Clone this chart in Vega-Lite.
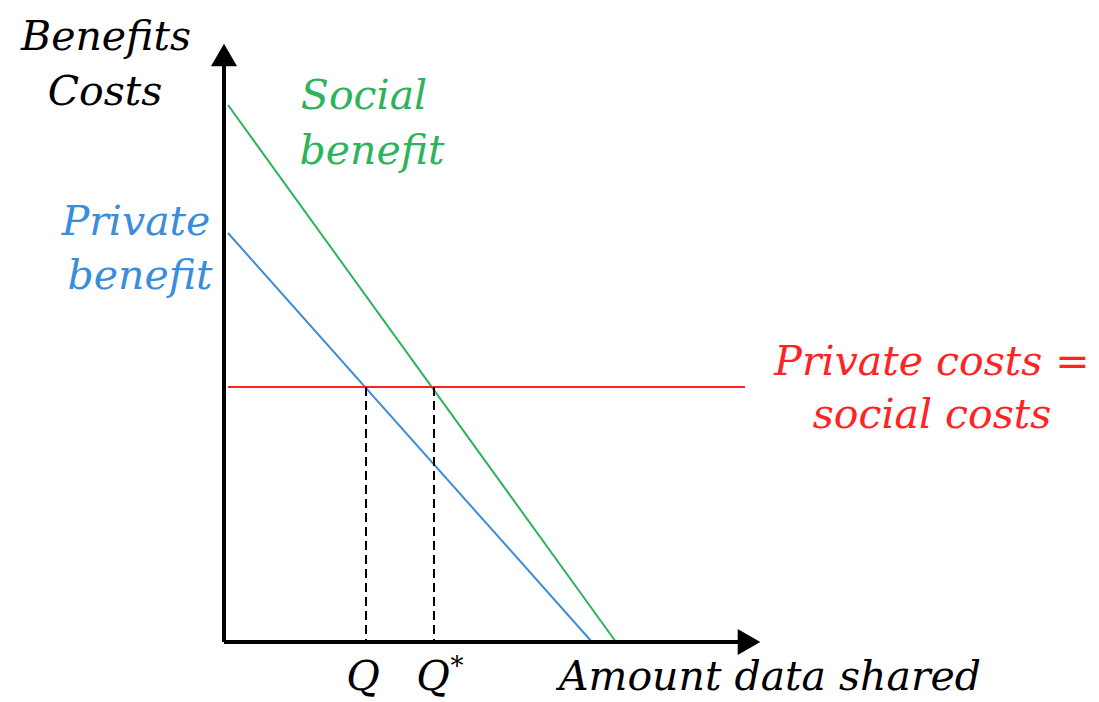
{
  "$schema": "https://vega.github.io/schema/vega-lite/v6.json",
  "width": 1099,
  "height": 702,
  "padding": 0,
  "autosize": {"type": "fit", "contains": "padding"},
  "background": "white",
  "config": {"view": {"stroke": null}},
  "datasets": {
    "segments": [
      {"series": "Social benefit", "x": 0.4, "y": 53.7, "x2": 39.2, "y2": 0},
      {"series": "Private benefit", "x": 0.4, "y": 40.9, "x2": 36.8, "y2": 0},
      {"series": "Private costs = social costs", "x": 0.4, "y": 25.5, "x2": 52.1, "y2": 25.5}
    ],
    "axes": [
      {"series": "axis", "x": 0, "y": 0, "x2": 0, "y2": 58.7},
      {"series": "axis", "x": 0, "y": 0, "x2": 52.5, "y2": 0}
    ],
    "dashed": [
      {"series": "axis", "x": 14.2, "y": 25.5, "x2": 14.2, "y2": 0},
      {"series": "axis", "x": 21.0, "y": 25.5, "x2": 21.0, "y2": 0}
    ],
    "arrows": [
      {"series": "axis", "dir": "up", "x": 0, "y": 58.7},
      {"series": "axis", "dir": "right", "x": 52.5, "y": 0}
    ],
    "labels": [
      {"series": "axis", "text": "Benefits", "x": -11.8, "y": 59.2},
      {"series": "axis", "text": "Costs", "x": -11.9, "y": 53.7},
      {"series": "Social benefit", "text": "Social", "x": 14.0, "y": 53.3},
      {"series": "Social benefit", "text": "benefit", "x": 14.8, "y": 47.8},
      {"series": "Private benefit", "text": "Private", "x": -8.8, "y": 40.7},
      {"series": "Private benefit", "text": "benefit", "x": -8.4, "y": 35.3},
      {"series": "Private costs = social costs", "text": "Private costs =", "x": 70.8, "y": 26.7},
      {"series": "Private costs = social costs", "text": "social costs", "x": 70.8, "y": 21.4},
      {"series": "axis", "text": "Q", "x": 13.9, "y": -4.8},
      {"series": "axis", "text": "Q", "x": 20.9, "y": -4.8},
      {"series": "axis", "text": "Amount data shared", "x": 54.6, "y": -4.8}
    ],
    "sup": [
      {"series": "axis", "text": "*", "x": 23.3, "y": -3.3}
    ]
  },
  "encoding": {
    "x": {"field": "x", "type": "quantitative", "scale": {"domain": [-22.4, 87.5], "nice": false, "zero": false}, "axis": null},
    "y": {"field": "y", "type": "quantitative", "scale": {"domain": [-6.0, 64.2], "nice": false, "zero": false}, "axis": null},
    "color": {"field": "series", "type": "nominal", "legend": null,
      "scale": {"domain": ["axis", "Social benefit", "Private benefit", "Private costs = social costs"],
                "range": ["#000000", "#2db35c", "#3a8ddb", "#ff2424"]}}
  },
  "layer": [
    {
      "data": {"name": "segments"},
      "mark": {"type": "rule", "strokeWidth": 2},
      "encoding": {"x2": {"field": "x2"}, "y2": {"field": "y2"}}
    },
    {
      "data": {"name": "dashed"},
      "mark": {"type": "rule", "strokeWidth": 2, "strokeDash": [9, 5]},
      "encoding": {"x2": {"field": "x2"}, "y2": {"field": "y2"}}
    },
    {
      "data": {"name": "axes"},
      "mark": {"type": "rule", "strokeWidth": 4},
      "encoding": {"x2": {"field": "x2"}, "y2": {"field": "y2"}}
    },
    {
      "data": {"name": "arrows"},
      "mark": {"type": "point", "filled": true, "size": 680, "opacity": 1},
      "encoding": {"shape": {"field": "dir", "type": "nominal", "legend": null,
        "scale": {"domain": ["up", "right"], "range": ["triangle-up", "triangle-right"]}}}
    },
    {
      "data": {"name": "labels"},
      "mark": {"type": "text", "font": "DejaVu Serif", "fontStyle": "italic", "fontSize": 41, "align": "center", "baseline": "alphabetic"},
      "encoding": {"text": {"field": "text"}}
    },
    {
      "data": {"name": "sup"},
      "mark": {"type": "text", "font": "DejaVu Serif", "fontStyle": "italic", "fontSize": 26, "align": "center", "baseline": "alphabetic"},
      "encoding": {"text": {"field": "text"}}
    }
  ]
}
